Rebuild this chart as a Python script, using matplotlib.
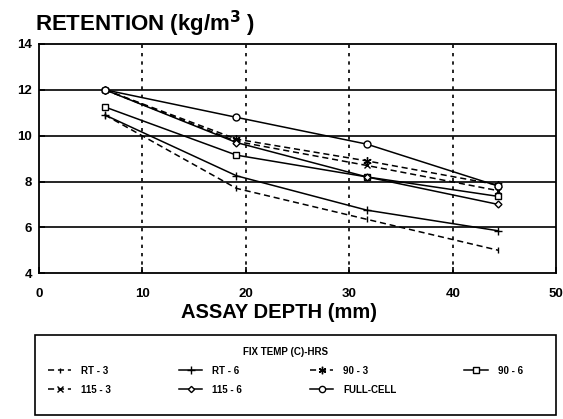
import matplotlib
matplotlib.use("Agg")
import matplotlib.pyplot as plt
from matplotlib.patches import Rectangle

plt.rcParams['font.family'] = ['Liberation Sans', 'DejaVu Sans']
plt.rcParams['font.weight'] = 'bold'

# Assay depths (mm) at which retention was measured
depth = [6.4, 19.1, 31.7, 44.4]

# Retention (kg/m^3) per fixation treatment
rt_3 = [10.9, 7.7, 6.35, 5.0]
rt_6 = [10.9, 8.25, 6.75, 5.85]
t90_3 = [12.0, 9.85, 8.9, 7.85]
t90_6 = [11.25, 9.15, 8.2, 7.35]
t115_3 = [12.0, 9.75, 8.7, 7.6]
t115_6 = [12.0, 9.7, 8.2, 7.0]
full_cell = [12.0, 10.8, 9.63, 7.8]

x_ticks = [0, 10, 20, 30, 40, 50]
y_ticks = [4, 6, 8, 10, 12, 14]

fig = plt.figure(figsize=(5.63, 4.19), dpi=100)
ax = fig.add_axes([0.069, 0.348, 0.919, 0.547])

ax.set_xlim(0, 50)
ax.set_ylim(4, 14)

# grid: solid horizontal, dotted vertical
for yv in [6, 8, 10, 12]:
    ax.axhline(yv, color='black', lw=1.2, zorder=1)
for xv in [10, 20, 30, 40]:
    ax.axvline(xv, color='black', lw=1.2, ls=(0, (2, 3)), zorder=1)

lw = 1.1
style = dict(color='black', lw=lw, mfc='white', mec='black', mew=1.0, zorder=3)
h_rt3, = ax.plot(depth, rt_3, ls=(0, (4, 2.5)), marker='|', ms=4, label='RT - 3', **style)
h_rt6, = ax.plot(depth, rt_6, ls='-', marker='+', ms=6, label='RT - 6', **style)
h_903, = ax.plot(depth, t90_3, ls=(0, (4, 2.5)), marker=(6, 2, 0), ms=6, label='90 - 3', **style)
h_906, = ax.plot(depth, t90_6, ls='-', marker='s', ms=4.5, label='90 - 6', **style)
h_1153, = ax.plot(depth, t115_3, ls=(0, (4, 2.5)), marker='x', ms=4.5, label='115 - 3', **style)
h_1156, = ax.plot(depth, t115_6, ls='-', marker='D', ms=3.5, label='115 - 6', **style)
h_full, = ax.plot(depth, full_cell, ls='-', marker='o', ms=5, label='FULL-CELL', **style)

ax.set_xticks(x_ticks)
ax.set_yticks(y_ticks)
ax.tick_params(direction='in', length=4, width=1.2, labelsize=9.5, pad=11)
ax.tick_params(axis='y', pad=5)
for lab in ax.get_xticklabels() + ax.get_yticklabels():
    lab.set_fontweight('bold')
for sp in ax.spines.values():
    sp.set_linewidth(1.3)

fig.text(0.062, 0.925, 'RETENTION (kg/m$^{\\mathbf{3}}$ )', fontsize=16,
         fontweight='bold', ha='left', va='baseline')
fig.text(0.495, 0.24, 'ASSAY DEPTH (mm)', fontsize=14.5, fontweight='bold',
         ha='center', va='baseline')

# legend box
fig.patches.append(Rectangle((0.062, 0.01), 0.926, 0.19, transform=fig.transFigure,
                             fill=False, edgecolor='black', lw=1.2))
order = [h_rt3, h_1153, h_rt6, h_1156, h_903, h_full, h_906]
leg = fig.legend(handles=order, labels=[h.get_label() for h in order], ncol=4,
                 loc='center left', bbox_to_anchor=(0.07, 0.115), frameon=False,
                 title='FIX TEMP (C)-HRS', fontsize=7,
                 title_fontproperties={'size': 7, 'weight': 'bold'},
                 handlelength=2.4, handletextpad=1.0, columnspacing=7.0,
                 labelspacing=0.9, markerscale=0.9)
for t in leg.get_texts():
    t.set_fontweight('bold')

fig.savefig('out.png', dpi=100)
